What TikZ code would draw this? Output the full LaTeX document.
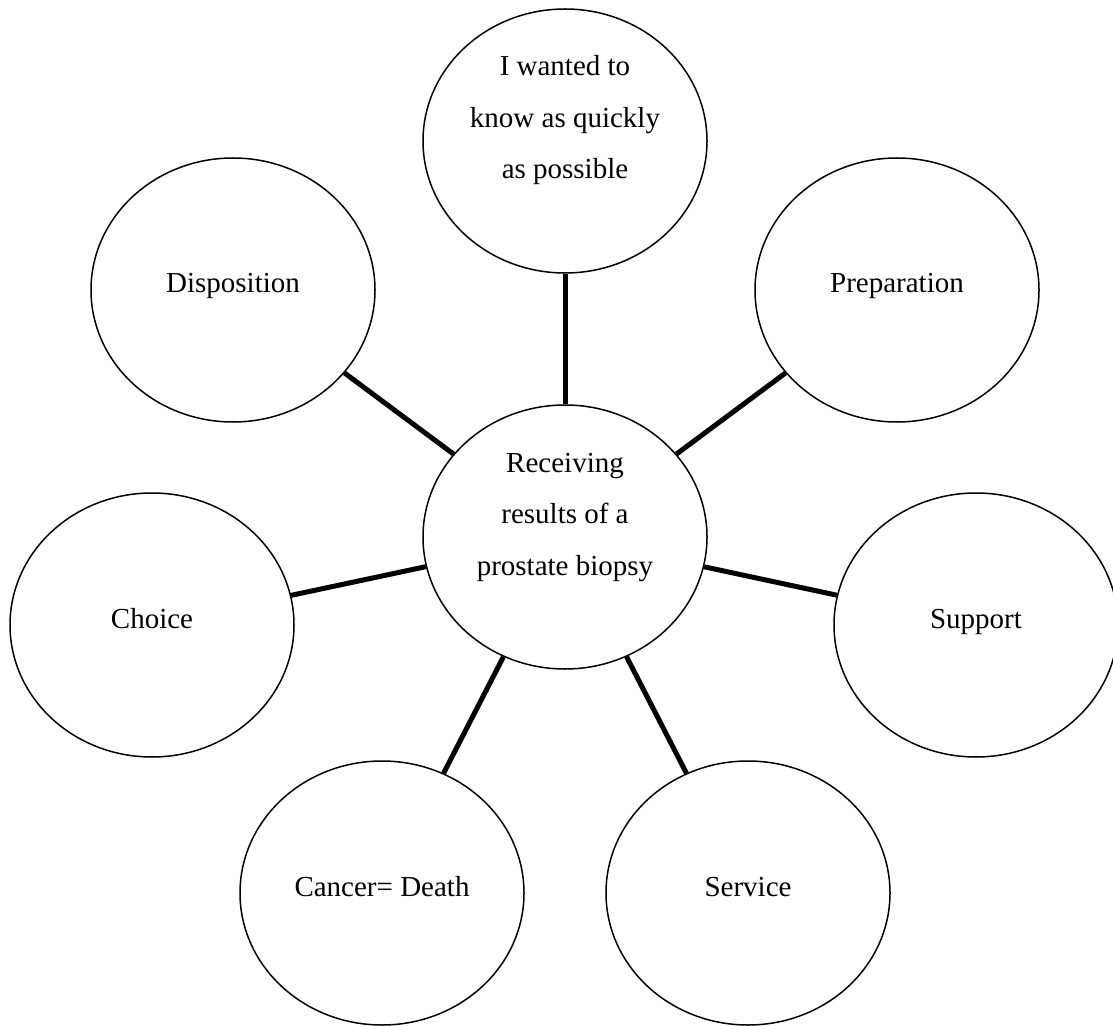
\documentclass[tikz,border=0pt]{standalone}
\usepackage{fontspec}
\setmainfont{Liberation Serif}
\usepackage{tikz}
\usetikzlibrary{shapes.geometric}

\tikzset{
  theme/.style={ellipse, draw, line width=0.75pt, minimum width=142pt, minimum height=132pt,
    inner sep=0pt, align=center, text height=9pt, text depth=6pt,
    font={\fontsize{14.5pt}{25.75pt}\selectfont}},
  threeline/.style={text height=44pt},
  link/.style={line width=2.5pt}
}

\begin{document}
\begin{tikzpicture}[x=0.5pt, y=-0.5pt]
  \useasboundingbox (0,0) rectangle (1113,1026);

  % Core
  \node[theme, threeline] (recv) at (565,537) {Receiving\\results of a\\prostate biopsy};

  % Themes round it
  \node[theme, threeline] (quick) at (565,141) {I wanted to\\know as quickly\\as possible};
  \node[theme] (disp) at (233,290) {Disposition};
  \node[theme] (prep) at (897,290) {Preparation};
  \node[theme] (choice) at (152,625) {Choice};
  \node[theme] (support) at (976,625) {Support};
  \node[theme] (death) at (382,893) {Cancer= Death};
  \node[theme] (service) at (748,893) {Service};

  % Spokes
  \draw[link] (recv) -- (quick);
  \draw[link] (recv) -- (disp);
  \draw[link] (recv) -- (prep);
  \draw[link] (recv) -- (choice);
  \draw[link] (recv) -- (support);
  \draw[link] (recv) -- (death);
  \draw[link] (recv) -- (service);
\end{tikzpicture}
\end{document}
